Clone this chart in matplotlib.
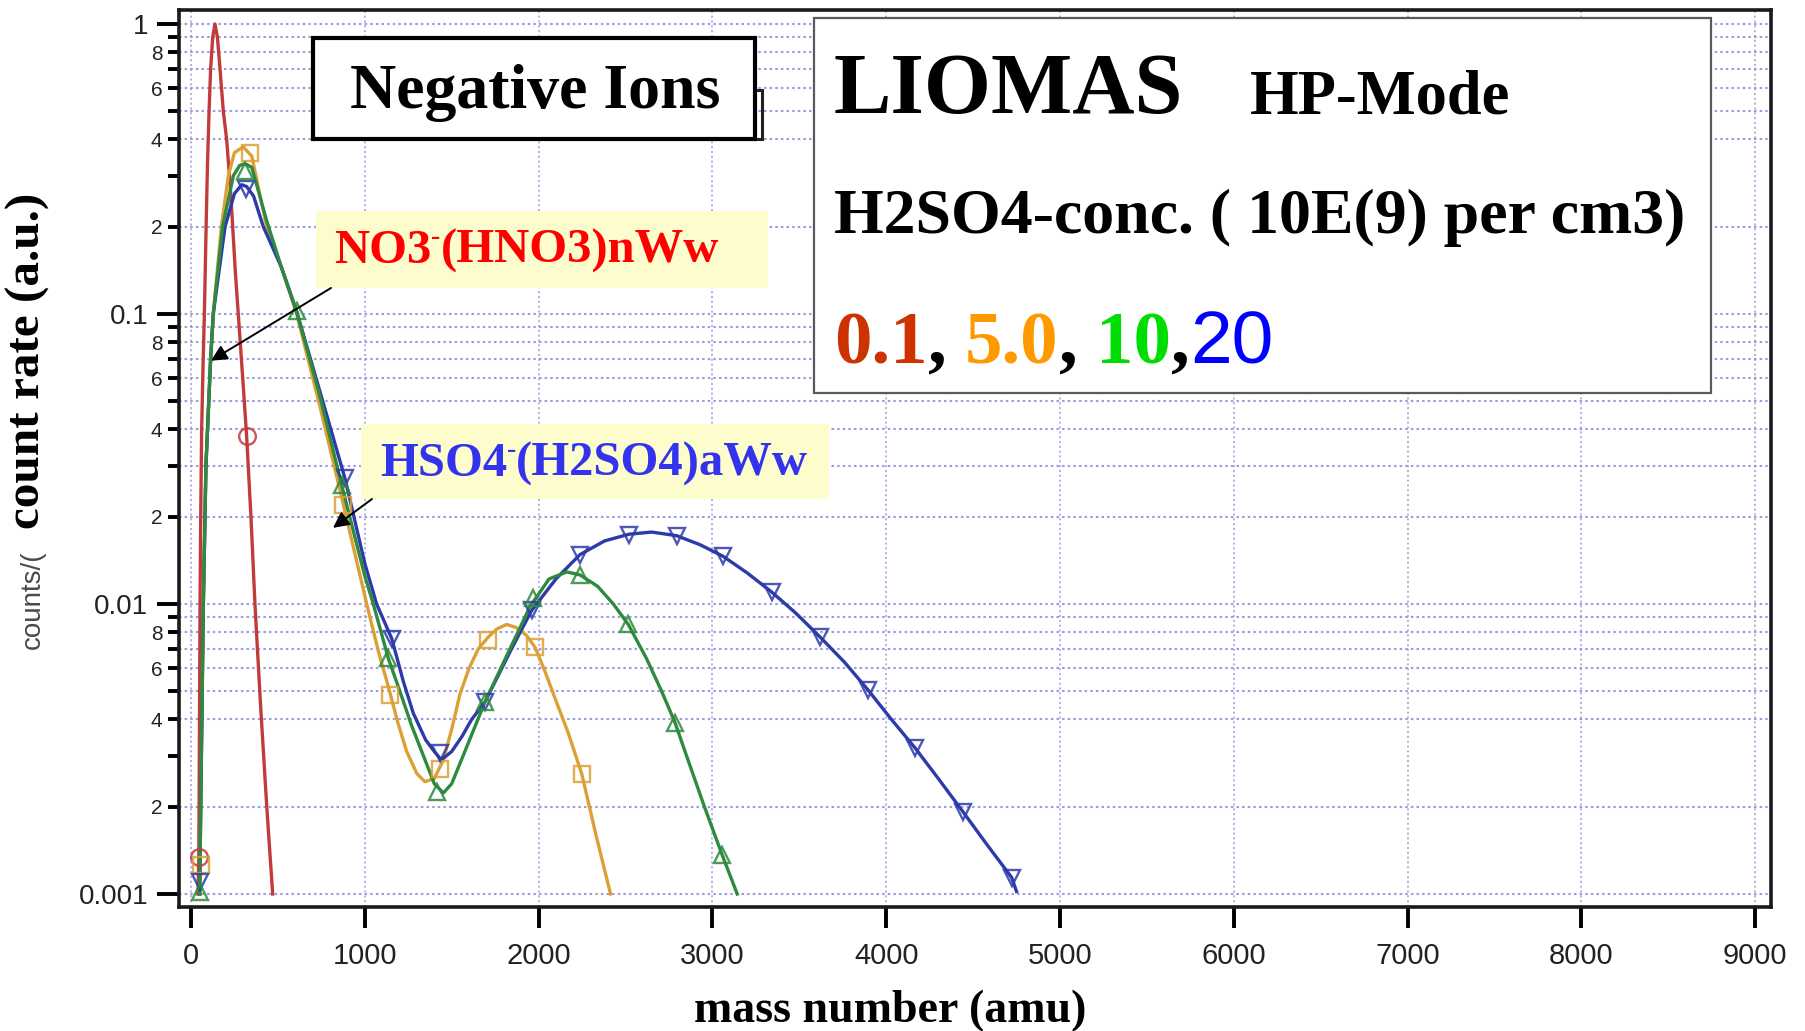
#!/usr/bin/env python3
"""LIOMAS negative-ion mass spectra (HP mode) for four H2SO4 concentrations."""

import matplotlib
matplotlib.use('Agg')
import matplotlib.pyplot as plt
from matplotlib.patches import Rectangle

W, H, DPI = 1806, 1031, 100

# ── Data: mass (amu) vs count rate (a.u.) ─────────────────────────
# fitted curves
red_fit_x = [40, 45, 48, 52, 56, 61, 69, 77, 87, 95, 104, 113, 125, 138, 152,
             167, 186, 205, 225, 240, 255, 272, 296, 320, 345, 368, 400, 436, 470]
red_fit_y = [0.001, 0.00134, 0.003, 0.01, 0.02, 0.039, 0.065, 0.1, 0.2, 0.33,
             0.5, 0.7, 0.9, 1.0, 0.9, 0.7, 0.5, 0.4, 0.28, 0.2, 0.14, 0.1,
             0.062, 0.038, 0.02, 0.01, 0.0045, 0.002, 0.001]

orange_fit_x = [50, 56, 71, 86, 113, 128, 175, 215, 250, 300, 350, 435, 520,
                608, 742, 877, 1011, 1080, 1135, 1190, 1241, 1300, 1346, 1400,
                1452, 1500, 1548, 1600, 1653, 1711, 1760, 1816, 1870, 1930,
                1979, 2030, 2085, 2170, 2248, 2330, 2414]
orange_fit_y = [0.001, 0.002, 0.01, 0.03, 0.07, 0.1, 0.2, 0.3, 0.36, 0.377,
                0.35, 0.2, 0.145, 0.1, 0.048, 0.022, 0.01, 0.0068, 0.0052,
                0.0039, 0.0031, 0.0026, 0.00244, 0.0025, 0.0029, 0.0037,
                0.0049, 0.006, 0.007, 0.0077, 0.0082, 0.0085, 0.0083, 0.0078,
                0.0071, 0.006, 0.0049, 0.0036, 0.0026, 0.0016, 0.001]

green_fit_x = [50, 56, 71, 86, 113, 128, 182, 244, 280, 311, 350, 435, 520,
               608, 742, 867, 1000, 1049, 1135, 1202, 1270, 1337, 1400, 1452,
               1500, 1566, 1692, 1835, 1951, 2060, 2162, 2238, 2340, 2430,
               2516, 2620, 2708, 2785, 2851, 2954, 3057, 3143]
green_fit_y = [0.001, 0.002, 0.01, 0.03, 0.07, 0.1, 0.2, 0.3, 0.325, 0.33,
               0.32, 0.21, 0.145, 0.102, 0.052, 0.0257, 0.0125, 0.01, 0.0065,
               0.005, 0.0038, 0.003, 0.0024, 0.00223, 0.0024, 0.003, 0.0046,
               0.007, 0.0098, 0.0122, 0.0129, 0.0126, 0.0115, 0.01, 0.0085,
               0.0065, 0.005, 0.0039, 0.003, 0.002, 0.00136, 0.001]

blue_fit_x = [50, 56, 71, 86, 113, 128, 196, 250, 292, 320, 360, 416, 520,
              608, 742, 886, 1000, 1068, 1155, 1222, 1279, 1350, 1400, 1440,
              1500, 1560, 1615, 1692, 1844, 1960, 2100, 2238, 2380, 2520,
              2650, 2794, 2930, 3062, 3200, 3341, 3480, 3619, 3760, 3896,
              4030, 4166, 4300, 4442, 4580, 4722, 4750]
blue_fit_y = [0.001, 0.002, 0.01, 0.03, 0.07, 0.1, 0.2, 0.26, 0.279, 0.275,
              0.255, 0.2, 0.145, 0.102, 0.054, 0.0271, 0.0138, 0.01, 0.0076,
              0.0054, 0.0042, 0.0034, 0.0031, 0.0029, 0.0031, 0.0035, 0.004,
              0.0046, 0.007, 0.0095, 0.0122, 0.0148, 0.0165, 0.0174, 0.0177,
              0.0172, 0.016, 0.0146, 0.0128, 0.011, 0.0093, 0.0077, 0.0063,
              0.00505, 0.004, 0.00319, 0.0025, 0.00192, 0.00148, 0.00114,
              0.00102]

# measured points (markers)
red_pts_x = [45, 320]
red_pts_y = [0.00134, 0.038]
orange_pts_x = [55, 340, 877, 1145, 1433, 1711, 1979, 2248]
orange_pts_y = [0.00126, 0.36, 0.0219, 0.00485, 0.0027, 0.0075, 0.0071, 0.0026]
green_pts_x = [52, 310, 608, 867, 1135, 1414, 1692, 1970, 2238, 2516, 2785, 3057]
green_pts_y = [0.00102, 0.31, 0.102, 0.0257, 0.0065, 0.00225, 0.0046, 0.0105,
               0.0126, 0.0085, 0.0039, 0.00136]
blue_pts_x = [52, 318, 886, 1155, 1433, 1692, 1960, 2238, 2520, 2794, 3062,
              3341, 3619, 3896, 4166, 4442, 4722]
blue_pts_y = [0.0011, 0.27, 0.0271, 0.0076, 0.00306, 0.0046, 0.0095, 0.0148,
              0.0173, 0.0171, 0.0146, 0.011, 0.0077, 0.00505, 0.00319, 0.00192,
              0.00114]

# ── Axis ticks ──────────────────────────────────────────────
x_ticks = [0, 1000, 2000, 3000, 4000, 5000, 6000, 7000, 8000, 9000]
y_major = [0.001, 0.01, 0.1, 1]
y_major_labels = ['0.001', '0.01', '0.1', '1']
y_minor = [m * d for d in (0.001, 0.01, 0.1) for m in range(2, 10)]
y_minor_labels = [str(m) if m % 2 == 0 else '' for d in (0.001, 0.01, 0.1)
                  for m in range(2, 10)]
y_grid = [v for v in y_major + y_minor
          if abs(v - 0.003) > 1e-9 and abs(v - 0.3) > 1e-9]

COL = {
    'red':    '#c23b3b',
    'orange': '#dca037',
    'green':  '#2e8a3e',
    'blue':   '#2c3aaa',
    'grid':   '#8484d8',
    'yellow': '#fdfccc',
}
SERIF = 'Liberation Serif'
SANS = 'Liberation Sans'


def fx(px):
    return px / W


def fy(py):          # pixel measured from the top
    return 1 - py / H


fig = plt.figure(figsize=(W / DPI, H / DPI), dpi=DPI, facecolor='white')
ax = fig.add_axes([fx(179), fy(907), fx(1771) - fx(179), fy(10) - fy(907)])
ax.set_yscale('log')
ax.set_xlim(-69, 9091)
ax.set_ylim(0.000902, 1.117)

# grid (dotted blue)
for v in y_grid:
    ax.axhline(v, color=COL['grid'], lw=1.5, ls=(0, (1.2, 1.5)), alpha=0.8, zorder=0)
for v in x_ticks:
    ax.axvline(v, color=COL['grid'], lw=1.2, ls=(0, (1.2, 1.7)), alpha=0.75, zorder=0)

# curves + markers
series = [
    (red_fit_x, red_fit_y, red_pts_x, red_pts_y, COL['red'], 'o'),
    (orange_fit_x, orange_fit_y, orange_pts_x, orange_pts_y, COL['orange'], 's'),
    (blue_fit_x, blue_fit_y, blue_pts_x, blue_pts_y, COL['blue'], 'v'),
    (green_fit_x, green_fit_y, green_pts_x, green_pts_y, COL['green'], '^'),
]
for fxs, fys, pxs, pys, c, mk in series:
    ax.plot(fxs, fys, color=c, lw=2.4, zorder=3, solid_joinstyle='round')
    ax.plot(pxs, pys, ls='none', marker=mk, ms=12, mfc='none', mec=c,
            mew=1.7, alpha=0.85, zorder=4)

# axes styling
for sp in ax.spines.values():
    sp.set_linewidth(2.6)
    sp.set_color('#1a1a1a')
ax.set_xticks(x_ticks)
ax.set_xticklabels([str(v) for v in x_ticks])
ax.set_yticks(y_major)
ax.set_yticklabels(y_major_labels)
ax.set_yticks(y_minor, minor=True)
ax.set_yticklabels(y_minor_labels, minor=True)
ax.tick_params(axis='x', which='major', length=15, width=2.8, pad=10,
               labelsize=21, labelcolor='#222222')
ax.tick_params(axis='x', which='minor', length=0)
ax.tick_params(axis='y', which='major', length=16, width=2.8, pad=6,
               labelsize=20, labelcolor='#222222')
ax.tick_params(axis='y', which='minor', length=8, width=2.8, pad=4,
               labelsize=15, labelcolor='#222222')
for lab in ax.get_xticklabels() + ax.get_yticklabels() + ax.get_yticklabels(minor=True):
    lab.set_fontfamily(SANS)

# axis titles (figure positioned)
ax.text(fx(890), fy(1022), 'mass number (amu)', transform=fig.transFigure,
        ha='center', va='baseline', fontsize=33, fontweight='bold',
        fontfamily=SERIF, clip_on=False)
ax.text(fx(28), fy(361), 'count rate (a.u.)', transform=fig.transFigure,
        rotation=90, ha='center', va='center', fontsize=35.5, fontweight='bold',
        fontfamily=SERIF, clip_on=False)
ax.text(fx(33), fy(600), 'counts/(', transform=fig.transFigure,
        rotation=90, ha='center', va='center', fontsize=20,
        fontfamily=SANS, color='#4a4a4a', clip_on=False)


def box(x0, y0, x1, y1, fc, ec, lw, z):
    ax.add_patch(Rectangle((fx(x0), fy(y1)), fx(x1) - fx(x0), fy(y0) - fy(y1),
                           transform=fig.transFigure, fc=fc, ec=ec, lw=lw,
                           clip_on=False, zorder=z))


def chain(x_px, y_px, pieces, z=12):
    """Place text pieces one after another on a common baseline."""
    prev = None
    for s, kw in pieces:
        kw = dict(kw)
        rise = kw.pop('rise', 0)
        if prev is None:
            prev = ax.annotate(s, xy=(fx(x_px), fy(y_px)), xycoords='figure fraction',
                               xytext=(0, rise), textcoords='offset points',
                               va='baseline', ha='left', annotation_clip=False,
                               zorder=z, **kw)
        else:
            prev = ax.annotate(s, xy=(1, fy(y_px)), xycoords=(prev, 'figure fraction'),
                               xytext=(0, rise), textcoords='offset points',
                               va='baseline', ha='left', annotation_clip=False,
                               zorder=z, **kw)
    return prev


# "Negative Ions" box (with the offset frame peeking out on the right)
box(600, 90, 762, 139, 'none', '#222222', 2.2, 9)
box(313, 38, 755, 139, 'white', 'black', 3.0, 10)
ax.text(fx(535), fy(93), 'Negative Ions', transform=fig.transFigure,
        ha='center', va='center', fontsize=46, fontweight='bold',
        fontfamily=SERIF, clip_on=False, zorder=12)

# ion labels on pale yellow
box(316, 211, 768, 288, COL['yellow'], 'none', 0, 10)
box(361, 424, 829, 499, COL['yellow'], 'none', 0, 10)
red_kw = dict(fontsize=35, fontweight='bold', fontfamily=SERIF, color='#ff0000')
sup_r = dict(red_kw, fontsize=20, rise=14)
chain(334, 263, [('NO3', red_kw), ('-', sup_r), ('(HNO3)nWw', red_kw)])
blue_kw = dict(fontsize=35, fontweight='bold', fontfamily=SERIF, color='#3333ee')
sup_b = dict(blue_kw, fontsize=20, rise=14)
chain(380, 476, [('HSO4', blue_kw), ('-', sup_b), ('(H2SO4)aWw', blue_kw)])

# arrows from the labels to the curves
arrow = dict(arrowstyle='-|>', color='black', lw=1.4, mutation_scale=24,
             shrinkA=0, shrinkB=0)
ax.annotate('', xy=(115, 0.069), xytext=(fx(331), fy(288)),
            textcoords='figure fraction', arrowprops=arrow, zorder=13,
            annotation_clip=False)
ax.annotate('', xy=(817, 0.0183), xytext=(fx(372), fy(499)),
            textcoords='figure fraction', arrowprops=arrow, zorder=13,
            annotation_clip=False)

# LIOMAS info box
box(814, 18, 1711, 393, 'white', '#5a5a5a', 1.6, 10)
big = dict(fontweight='bold', fontfamily=SERIF, color='black')
ax.text(fx(834), fy(113), 'LIOMAS', transform=fig.transFigure, ha='left',
        va='baseline', fontsize=62, clip_on=False, zorder=12, **big)
ax.text(fx(1250), fy(113), 'HP-Mode', transform=fig.transFigure, ha='left',
        va='baseline', fontsize=45, clip_on=False, zorder=12, **big)
ax.text(fx(834), fy(233), 'H2SO4-conc. ( 10E(9) per cm3)',
        transform=fig.transFigure, ha='left', va='baseline', fontsize=46,
        clip_on=False, zorder=12, **big)
num = dict(fontsize=54, fontweight='bold', fontfamily=SERIF)
chain(834, 363, [
    ('0.1', dict(num, color='#cc3300')),
    (', ', dict(num, color='black')),
    ('5.0', dict(num, color='#ff9900')),
    (', ', dict(num, color='black')),
    ('10', dict(num, color='#00dd00')),
    (',', dict(num, color='black')),
    ('20', dict(fontsize=54, fontfamily=SANS, color='#0000ff')),
])

fig.savefig('out.png', dpi=DPI, facecolor='white')
